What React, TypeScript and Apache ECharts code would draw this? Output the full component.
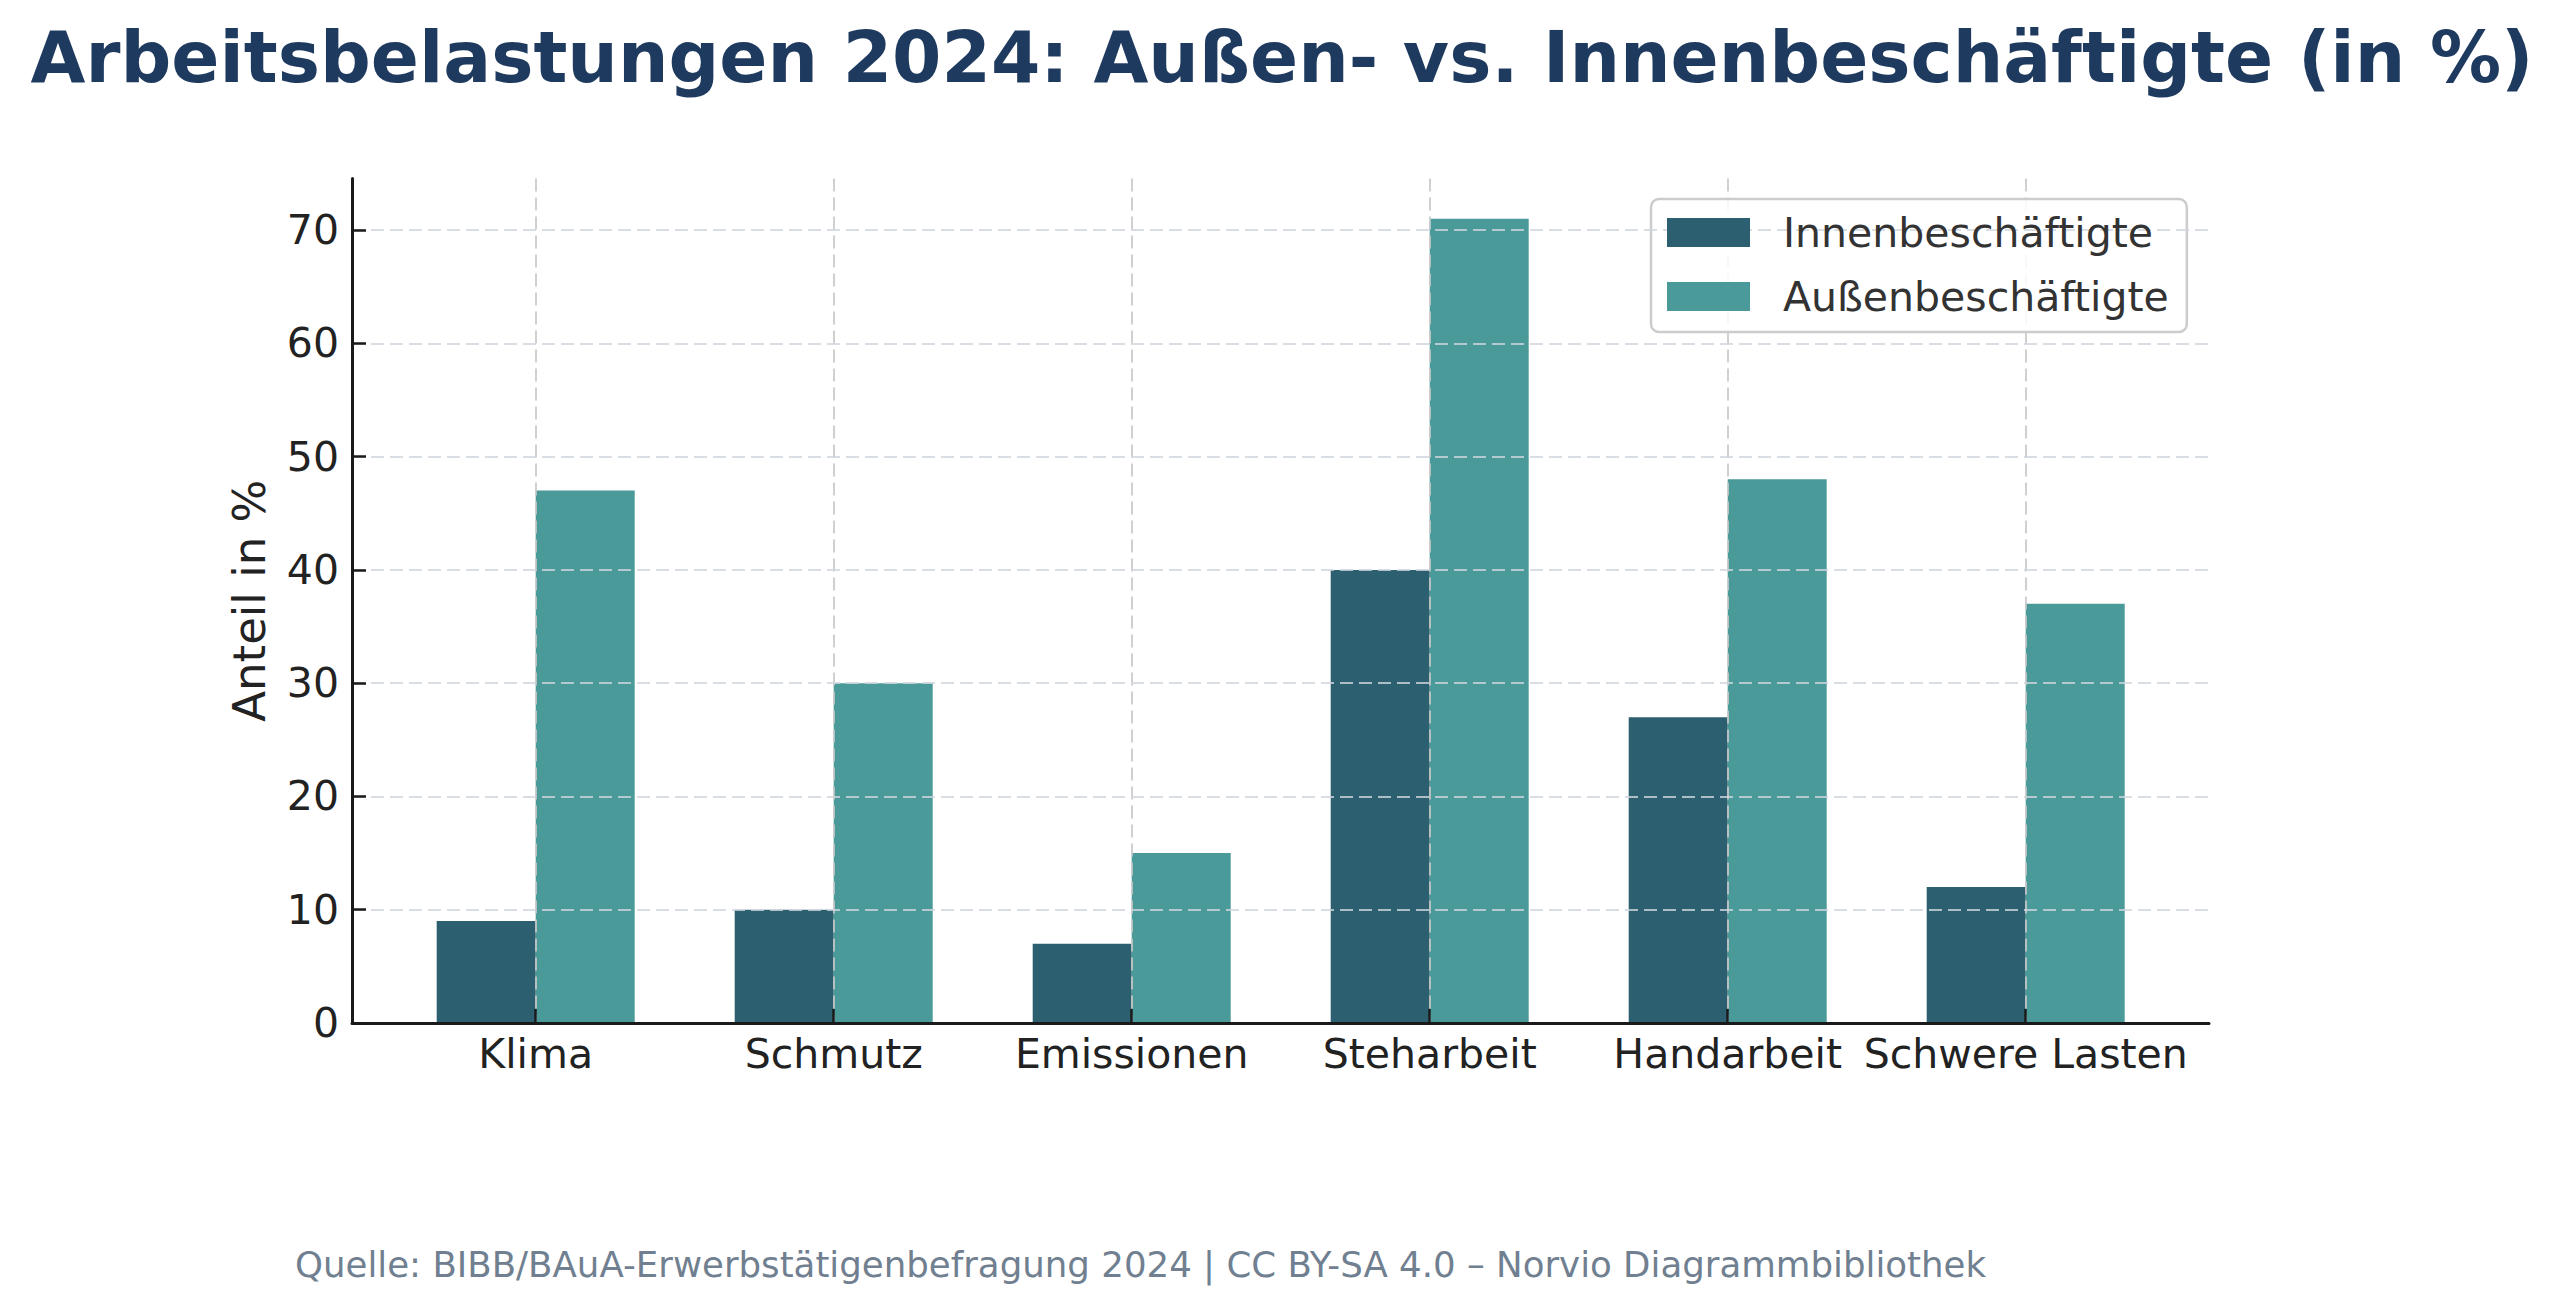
import React, { useEffect, useRef } from "react";
import * as echarts from "echarts";

const categories = ["Klima", "Schmutz", "Emissionen", "Steharbeit", "Handarbeit", "Schwere Lasten"];
const innen = [9, 10, 7, 40, 27, 12];
const aussen = [47, 30, 15, 71, 48, 37];
const yTicks = [0, 10, 20, 30, 40, 50, 60, 70];
const seriesNames = ["Innenbeschäftigte", "Außenbeschäftigte"];
const titleText = "Arbeitsbelastungen 2024: Außen- vs. Innenbeschäftigte (in %)";
const footerText = "Quelle: BIBB/BAuA-Erwerbstätigenbefragung 2024 | CC BY-SA 4.0 – Norvio Diagrammbibliothek";
const yName = "Anteil in %";

const FONT = '"DejaVu Sans", "Noto Sans", sans-serif';
const Y_MAX = 74.55;
const PLOT_TOP = 178.5;
const PLOT_BOTTOM = 1023;
const AXIS_LEFT = 352;
const AXIS_RIGHT = 2209;
const FIRST_CENTER = 535.7;
const LAST_CENTER = 2025.7;
const BAND = (LAST_CENTER - FIRST_CENTER) / (categories.length - 1);
const PLOT_H = PLOT_BOTTOM - PLOT_TOP;

const COLOR_INNEN = "#2c5f6f";
const COLOR_AUSSEN = "#4a9a9a";

export default function App() {
  const ref = useRef<HTMLDivElement>(null);
  useEffect(() => {
    if (!ref.current) return;
    const chart = echarts.init(ref.current, null, { renderer: "svg" });
    const hGrid = { color: "rgba(208,214,221,0.8)", width: 2, type: [13, 6] as any };
    const vGrid = { color: "rgba(200,200,200,0.85)", width: 2, type: [13, 6] as any };
    const option: any = {
      animation: false,
      backgroundColor: "#ffffff",
      textStyle: { fontFamily: FONT },
      graphic: [
        {
          type: "text",
          x: 1282,
          y: 57,
          style: {
            text: titleText,
            fill: "#1f3a5f",
            font: `bold 71px ${FONT}`,
            align: "center",
            verticalAlign: "middle",
            textAlign: "center",
            textVerticalAlign: "middle",
          },
        },
        {
          type: "text",
          x: 295,
          y: 1264,
          style: {
            text: footerText,
            fill: "#708090",
            font: `35.6px ${FONT}`,
            align: "left",
            verticalAlign: "middle",
            textAlign: "left",
            textVerticalAlign: "middle",
          },
        },
      ],
      legend: {
        orient: "vertical",
        left: 1651,
        top: 199,
        padding: [13, 18, 15, 16],
        itemWidth: 83,
        itemHeight: 29,
        itemGap: 23,
        icon: "rect",
        backgroundColor: "rgba(255,255,255,0.85)",
        borderColor: "#cccccc",
        borderWidth: 2.5,
        borderRadius: 8,
        textStyle: { fontSize: 41, color: "#333333", fontFamily: FONT, padding: [0, 0, 0, 28] },
        data: seriesNames,
      },
      grid: [
        { left: AXIS_LEFT, top: PLOT_TOP, width: AXIS_RIGHT - AXIS_LEFT, height: PLOT_H },
        { left: FIRST_CENTER - BAND / 2, top: PLOT_TOP, width: BAND * categories.length, height: PLOT_H },
        { left: FIRST_CENTER, top: PLOT_TOP, width: LAST_CENTER - FIRST_CENTER, height: PLOT_H },
      ],
      xAxis: [
        {
          gridIndex: 0,
          type: "value",
          min: 0,
          max: 1,
          z: 4,
          axisLine: { show: true, lineStyle: { color: "#1a1a1a", width: 3 } },
          axisTick: { show: false },
          axisLabel: { show: false },
          splitLine: { show: false },
        },
        {
          gridIndex: 1,
          type: "category",
          data: categories,
          z: 4,
          axisLine: { show: false },
          axisTick: { show: true, alignWithLabel: true, inside: true, length: 14, lineStyle: { color: "#1a1a1a", width: 2.5 } },
          axisLabel: { fontSize: 41, color: "#222222", margin: 10, fontFamily: FONT, interval: 0 },
          splitLine: { show: false },
        },
        {
          gridIndex: 2,
          type: "category",
          boundaryGap: false,
          data: categories,
          z: 3,
          axisLine: { show: false },
          axisTick: { show: false },
          axisLabel: { show: false },
          splitLine: { show: true, interval: 0, lineStyle: vGrid },
        },
      ],
      yAxis: [
        {
          gridIndex: 0,
          type: "value",
          min: 0,
          max: Y_MAX,
          interval: 10,
          z: 4,
          name: yName,
          nameLocation: "middle",
          nameRotate: 90,
          nameGap: 80,
          nameTextStyle: { fontSize: 45, color: "#222222", fontFamily: FONT },
          axisLine: { show: true, lineStyle: { color: "#1a1a1a", width: 3 } },
          axisTick: { show: true, inside: true, length: 14, customValues: yTicks, lineStyle: { color: "#1a1a1a", width: 2.5 } },
          axisLabel: {
            fontSize: 41,
            color: "#222222",
            margin: 13,
            fontFamily: FONT,
            customValues: yTicks,
            formatter: (v: number) => (yTicks.indexOf(v) >= 0 ? String(v) : ""),
          },
          splitLine: { show: true, showMinLine: false, lineStyle: hGrid },
        },
        { gridIndex: 1, type: "value", min: 0, max: Y_MAX, show: false, splitLine: { show: false } },
        { gridIndex: 2, type: "value", min: 0, max: Y_MAX, show: false, splitLine: { show: false } },
      ],
      series: [
        {
          name: seriesNames[0],
          type: "bar",
          xAxisIndex: 1,
          yAxisIndex: 1,
          data: innen,
          barWidth: 99,
          barGap: "0%",
          itemStyle: { color: COLOR_INNEN },
          z: 2,
        },
        {
          name: seriesNames[1],
          type: "bar",
          xAxisIndex: 1,
          yAxisIndex: 1,
          data: aussen,
          barWidth: 99,
          barGap: "0%",
          itemStyle: { color: COLOR_AUSSEN },
          z: 2,
        },
      ],
    };
    chart.setOption(option);
    return () => chart.dispose();
  }, []);
  return (
    <div
      ref={ref}
      style={{ position: "absolute", left: 0, top: 0, width: 2560, height: 1314, background: "#fff" }}
    />
  );
}
